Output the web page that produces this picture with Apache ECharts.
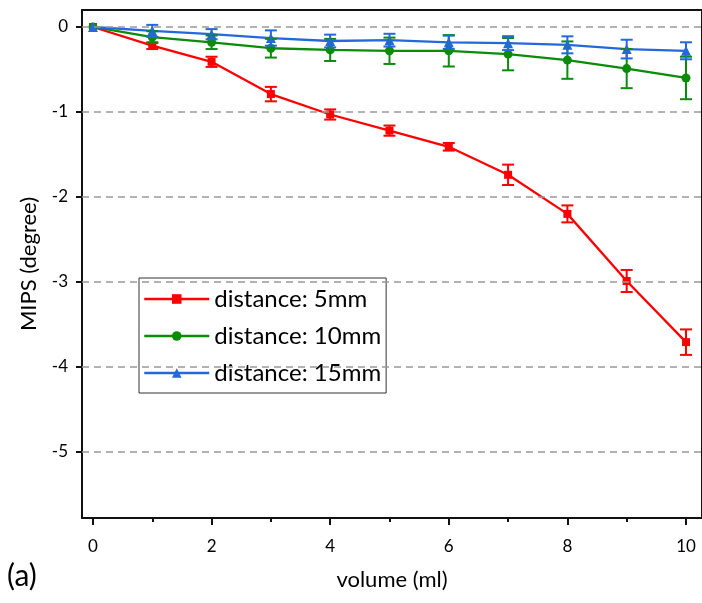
<!DOCTYPE html>
<html>
<head>
<meta charset="utf-8">
<title>MIPS vs volume</title>
<script src="https://cdn.jsdelivr.net/npm/echarts@6/dist/echarts.min.js"></script>
<style>
html,body{margin:0;padding:0;background:#fff;}
#chartContainer{width:702px;height:603px;}
</style>
</head>
<body>
<div id="chartContainer"></div>
<script>
// 数据
var volume = [0, 1, 2, 3, 4, 5, 6, 7, 8, 9, 10];
var mips5 = [0, -0.22, -0.41, -0.79, -1.03, -1.22, -1.41, -1.74, -2.2, -2.99, -3.71];
var err5 = [0, 0.04, 0.06, 0.085, 0.06, 0.06, 0.045, 0.12, 0.1, 0.13, 0.15];
var mips10 = [0, -0.12, -0.18, -0.25, -0.27, -0.28, -0.28, -0.32, -0.39, -0.49, -0.6];
var err10 = [0, 0.07, 0.08, 0.11, 0.13, 0.155, 0.185, 0.19, 0.22, 0.23, 0.25];
var mips15 = [0, -0.045, -0.085, -0.13, -0.165, -0.155, -0.18, -0.19, -0.21, -0.26, -0.28];
var err15 = [0, 0.07, 0.06, 0.09, 0.075, 0.075, 0.078, 0.082, 0.1, 0.11, 0.1];
var names = ['distance: 5mm', 'distance: 10mm', 'distance: 15mm'];
var xMajor = [0, 2, 4, 6, 8, 10];
var xMinor = [1, 3, 5, 7, 9];
var yTicks = [-5, -4, -3, -2, -1, 0];

var FONT = 'Lato';
var colors = ['#ff0000', '#0a8c0a', '#2468dc'];

// 拼成 [x, y]
function pairs(ys){
	var out = [];
	for(var i = 0; i < volume.length; i++){
		out.push([volume[i], ys[i]]);
	}
	return out;
}
// 误差棒数据 [x, 下, 上]
function errData(ys, es){
	var out = [];
	for(var i = 0; i < volume.length; i++){
		if(es[i] > 0) out.push([volume[i], ys[i] - es[i], ys[i] + es[i]]);
	}
	return out;
}
function errSeries(name, ys, es, color){
	return {
		name: name,
		type: 'custom',
		data: errData(ys, es),
		encode: {x: 0, y: [1, 2]},
		z: 4,
		silent: true,
		renderItem: function(params, api){
			var x = api.value(0);
			var lo = api.coord([x, api.value(1)]);
			var hi = api.coord([x, api.value(2)]);
			var st = {stroke: color, lineWidth: 2};
			return {
				type: 'group',
				children: [
					{type: 'line', shape: {x1: lo[0], y1: lo[1], x2: hi[0], y2: hi[1]}, style: st},
					{type: 'line', shape: {x1: lo[0] - 6, y1: lo[1], x2: lo[0] + 6, y2: lo[1]}, style: st},
					{type: 'line', shape: {x1: hi[0] - 6, y1: hi[1], x2: hi[0] + 6, y2: hi[1]}, style: st}
				]
			};
		}
	};
}
function lineSeries(name, ys, symbol, size, color){
	return {
		name: name,
		type: 'line',
		data: pairs(ys),
		symbol: symbol,
		symbolSize: size,
		showAllSymbol: true,
		z: 3,
		itemStyle: {color: color},
		lineStyle: {color: color, width: 2.3}
	};
}
// 网格虚线
var gridLines = [];
for(var k = 0; k < yTicks.length; k++){
	gridLines.push({yAxis: yTicks[k]});
}

var option = {
	animation: false,
	backgroundColor: '#fff',
	grid: [
		{left: 82, right: -2, top: 10, bottom: 85, show: true, borderColor: '#111', borderWidth: 2, backgroundColor: 'transparent'},
		{left: 82, right: -2, top: 10, bottom: 85}
	],
	legend: {
		data: names,
		orient: 'vertical',
		left: 139,
		top: 278,
		backgroundColor: '#fff',
		borderColor: '#333',
		borderWidth: 1,
		padding: [9, 5, 8, 4],
		itemWidth: 65,
		itemHeight: 12,
		itemGap: 13,
		lineStyle: {width: 2.5},
		textStyle: {fontFamily: FONT, fontSize: 24, lineHeight: 22, color: '#000'}
	},
	xAxis: [{
		type: 'value',
		gridIndex: 0,
		min: -0.185,
		max: 10.27,
		name: 'volume (ml)',
		nameLocation: 'middle',
		nameGap: 51,
		nameTextStyle: {fontFamily: FONT, fontSize: 22, color: '#000'},
		axisLine: {show: true, onZero: false, lineStyle: {color: '#111', width: 2}},
		axisTick: {show: true, inside: false, length: 7, customValues: xMajor, lineStyle: {color: '#111', width: 2}},
		axisLabel: {customValues: xMajor, margin: 20, fontFamily: FONT, fontSize: 17, color: '#000'},
		splitLine: {show: false}
	}, {
		type: 'value',
		gridIndex: 1,
		min: -0.185,
		max: 10.27,
		axisLine: {show: false, onZero: false},
		axisTick: {show: true, inside: false, length: 4, customValues: xMinor, lineStyle: {color: '#111', width: 2}},
		axisLabel: {show: false},
		splitLine: {show: false}
	}],
	yAxis: [{
		type: 'value',
		gridIndex: 0,
		min: -5.78,
		max: 0.2,
		name: 'MIPS (degree)',
		nameLocation: 'middle',
		nameGap: 42,
		nameTextStyle: {fontFamily: FONT, fontSize: 22, color: '#000'},
		axisLine: {show: true, onZero: false, lineStyle: {color: '#111', width: 2}},
		axisTick: {show: true, inside: false, length: 6, customValues: yTicks, lineStyle: {color: '#111', width: 2}},
		axisLabel: {customValues: yTicks, margin: 14, fontFamily: FONT, fontSize: 17, color: '#000'},
		splitLine: {show: false}
	}, {
		type: 'value',
		gridIndex: 1,
		min: -5.78,
		max: 0.2,
		show: false
	}],
	graphic: [{
		type: 'text',
		left: 7,
		top: 561,
		style: {text: '(a)', fontFamily: FONT, fontSize: 30, fill: '#000'}
	}],
	series: [
		{
			name: 'grid',
			type: 'line',
			data: [],
			z: 1,
			silent: true,
			markLine: {
				silent: true,
				symbol: 'none',
				label: {show: false},
				lineStyle: {color: '#999', type: [7, 5], width: 1.5},
				data: gridLines
			}
		},
		lineSeries(names[0], mips5, 'rect', 8, colors[0]),
		lineSeries(names[1], mips10, 'circle', 9, colors[1]),
		lineSeries(names[2], mips15, 'triangle', 10, colors[2]),
		errSeries('err5', mips5, err5, colors[0]),
		errSeries('err10', mips10, err10, colors[1]),
		errSeries('err15', mips15, err15, colors[2])
	]
};

var myChar = echarts.init(document.getElementById('chartContainer'));
myChar.setOption(option);
</script>
</body>
</html>
